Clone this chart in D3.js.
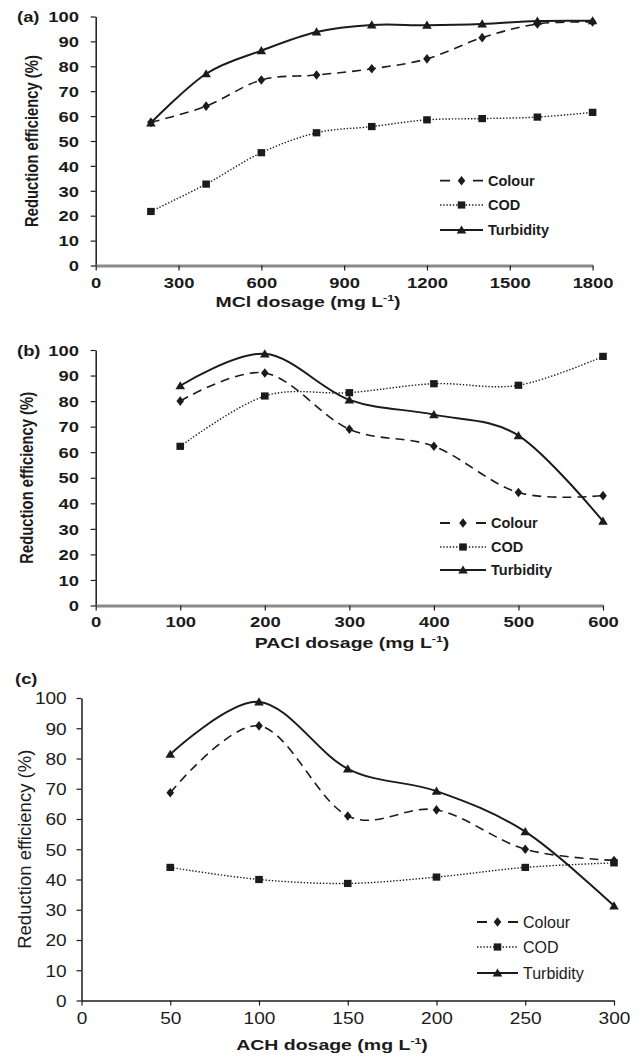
<!DOCTYPE html>
<html>
<head>
<meta charset="utf-8">
<script src="https://cdn.jsdelivr.net/npm/d3@7"></script>
<style>
  body { margin: 0; background: #fff; }
  svg { display: block; }
</style>
</head>
<body>
<svg id="chart" width="640" height="1064"></svg>
<script>
// ---- data ----
const seriesNames = ["Colour", "COD", "Turbidity"];
const yTicks = [0, 10, 20, 30, 40, 50, 60, 70, 80, 90, 100];

// (a) MCl
const mclDose = [200, 400, 600, 800, 1000, 1200, 1400, 1600, 1800];
const mclColour = [57.5, 64, 74.5, 76.5, 79, 83, 91.5, 97, 97.8];
const mclCOD = [21.7, 32.7, 45.3, 53.3, 55.8, 58.5, 59, 59.6, 61.5];
const mclTurbidity = [57.3, 77, 86.3, 93.8, 96.6, 96.5, 97, 98.2, 98.3];
const mclTicks = [0, 300, 600, 900, 1200, 1500, 1800];

// (b) PACl
const paclDose = [100, 200, 300, 400, 500, 600];
const paclColour = [80, 91, 69, 62.3, 44.2, 43];
const paclCOD = [62.3, 82, 83.3, 86.8, 86.2, 97.5];
const paclTurbidity = [86, 98.5, 80.5, 74.7, 66.5, 33];
const paclTicks = [0, 100, 200, 300, 400, 500, 600];

// (c) ACH
const achDose = [50, 100, 150, 200, 250, 300];
const achColour = [68.7, 90.8, 61, 63, 50, 46.3];
const achCOD = [44, 40, 38.7, 40.8, 44, 45.5];
const achTurbidity = [81.4, 98.7, 76.6, 69.2, 55.8, 31.3];
const achTicks = [0, 50, 100, 150, 200, 250, 300];

const svg = d3.select("#chart");
const ink = "#1b1b1b";

// marker shapes (Excel-like)
const diamond = { draw(c) { c.moveTo(0, -4.8); c.lineTo(3.8, 0); c.lineTo(0, 4.8); c.lineTo(-3.8, 0); c.closePath(); } };
const square = { draw(c) { c.rect(-3.8, -3.6, 7.6, 7.2); } };
const triangle = { draw(c) { c.moveTo(0, -4.6); c.lineTo(4.8, 3.6); c.lineTo(-4.8, 3.6); c.closePath(); } };
const shapes = [diamond, square, triangle];
const dashes = ["9,6", "1.4,1.8", null];
const widths = [1.6, 1.4, 2];

function drawPanel(p) {
  const x = d3.scaleLinear().domain([0, p.ticks[p.ticks.length - 1]]).range([p.left, p.right]);
  const y = d3.scaleLinear().domain([0, 100]).range([p.bottom, p.top]);
  const g = svg.append("g");

  // y axis
  const gy = g.append("g").attr("transform", `translate(${p.left},0)`)
    .call(d3.axisLeft(y).tickValues(yTicks).tickSize(5).tickSizeOuter(0));
  gy.select(".domain").attr("stroke", ink).attr("stroke-width", 1.5);
  gy.selectAll(".tick line").attr("stroke", ink).attr("stroke-width", 1.2);
  gy.attr("font-family", "Liberation Sans, Arial, sans-serif").attr("font-size", p.tickSize)
    .attr("font-weight", p.tickWeight);
  gy.selectAll(".tick text").attr("x", null).attr("dy", null).attr("fill", ink)
    .attr("transform", `translate(${-p.yLabelGap},${p.tickSize * 0.36}) scale(${p.k},1)`);

  // x axis
  const gx = g.append("g").attr("transform", `translate(0,${p.bottom})`)
    .call(d3.axisBottom(x).tickValues(p.ticks).tickFormat(d3.format("d")).tickSize(5).tickSizeOuter(0));
  gx.select(".domain").attr("stroke", p.xAxisColor).attr("stroke-width", p.xAxisWidth);
  gx.selectAll(".tick line").attr("stroke", ink).attr("stroke-width", 1.2);
  gx.attr("font-family", "Liberation Sans, Arial, sans-serif").attr("font-size", p.tickSize)
    .attr("font-weight", p.tickWeight);
  gx.selectAll(".tick text").attr("y", null).attr("dy", null).attr("fill", ink)
    .attr("transform", `translate(0,${p.xLabelOff}) scale(${p.k},1)`);

  // panel letter
  g.append("text").attr("transform", `translate(${p.letterX},${p.letterY}) scale(1.27,1)`)
    .attr("font-family", "Liberation Sans, Arial, sans-serif").attr("font-size", 14.5)
    .attr("font-weight", "bold").attr("fill", ink).text(p.letter);

  // y title
  g.append("text")
    .attr("transform", `translate(${p.yTitleX},${(p.top + p.bottom) / 2}) scale(${p.yTitleK},1) rotate(-90)`)
    .attr("text-anchor", "middle").attr("dy", "0.35em")
    .attr("font-family", "Liberation Sans, Arial, sans-serif").attr("font-size", p.yTitleSize)
    .attr("font-weight", p.yTitleWeight).attr("fill", ink)
    .text("Reduction efficiency (%)");

  // x title
  const xt = g.append("text")
    .attr("transform", `translate(${p.xTitleX},${p.xTitleY}) scale(1.3,1)`)
    .attr("text-anchor", "middle")
    .attr("font-family", "Liberation Sans, Arial, sans-serif").attr("font-size", 15)
    .attr("font-weight", "bold").attr("fill", ink);
  xt.append("tspan").text(p.xTitle + " dosage (mg L");
  xt.append("tspan").attr("font-size", 9.5).attr("dy", -6).text("-1");
  xt.append("tspan").attr("dy", 6).text(")");

  // series
  const line = d3.line().x(d => x(d[0])).y(d => y(d[1])).curve(d3.curveCardinal.tension(0));
  p.series.forEach((vals, i) => {
    const pts = p.dose.map((d, j) => [d, vals[j]]);
    g.append("path").datum(pts).attr("d", line).attr("fill", "none")
      .attr("stroke", ink).attr("stroke-width", widths[i])
      .attr("stroke-dasharray", dashes[i]);
    g.selectAll(null).data(pts).join("path")
      .attr("transform", d => `translate(${x(d[0])},${y(d[1])})`)
      .attr("d", d3.symbol().type(shapes[i])())
      .attr("fill", ink);
  });

  // legend
  const L = p.legend;
  seriesNames.forEach((name, i) => {
    const ly = L.y[i];
    const row = g.append("g").attr("transform", `translate(${L.x},${ly})`);
    if (i === 0) {
      row.append("line").attr("x1", 0).attr("x2", L.len).attr("stroke", ink).attr("stroke-width", 1.8)
        .attr("stroke-dasharray", `10,${L.len - 20}`);
    } else {
      row.append("line").attr("x1", 0).attr("x2", L.len).attr("stroke", ink)
        .attr("stroke-width", widths[i]).attr("stroke-dasharray", dashes[i]);
    }
    row.append("path").attr("transform", `translate(${L.len / 2},0)`)
      .attr("d", d3.symbol().type(shapes[i])()).attr("fill", ink);
    row.append("text").attr("x", L.len + 5).attr("y", L.size * 0.36)
      .attr("font-family", "Liberation Sans, Arial, sans-serif").attr("font-size", L.size)
      .attr("font-weight", L.weight).attr("fill", ink).text(name);
  });
}

drawPanel({
  letter: "(a)", letterX: 17, letterY: 22,
  dose: mclDose, series: [mclColour, mclCOD, mclTurbidity], ticks: mclTicks,
  left: 95.7, right: 592.6, top: 16.5, bottom: 265.5,
  tickSize: 14.5, tickWeight: "bold", k: 1.27, yLabelGap: 16.7, xLabelOff: 22,
  xAxisColor: "#8a8a8a", xAxisWidth: 3,
  yTitleX: 31, yTitleSize: 14.8, yTitleWeight: "bold", yTitleK: 1.27,
  xTitle: "MCl", xTitleX: 308, xTitleY: 307,
  legend: { x: 440, len: 43, y: [180.7, 205, 230], size: 14.5, weight: "bold" }
});

drawPanel({
  letter: "(b)", letterX: 17, letterY: 355.5,
  dose: paclDose, series: [paclColour, paclCOD, paclTurbidity], ticks: paclTicks,
  left: 95.7, right: 603, top: 350, bottom: 605.5,
  tickSize: 14.5, tickWeight: "bold", k: 1.27, yLabelGap: 16.7, xLabelOff: 21,
  xAxisColor: "#8a8a8a", xAxisWidth: 3,
  yTitleX: 26, yTitleSize: 14.8, yTitleWeight: "bold", yTitleK: 1.27,
  xTitle: "PACl", xTitleX: 352, xTitleY: 648,
  legend: { x: 440, len: 46, y: [523, 547, 570], size: 14.5, weight: "bold" }
});

drawPanel({
  letter: "(c)", letterX: 15, letterY: 684,
  dose: achDose, series: [achColour, achCOD, achTurbidity], ticks: achTicks,
  left: 81.5, right: 614, top: 698, bottom: 1000.5,
  tickSize: 16.3, tickWeight: "normal", k: 1.17, yLabelGap: 14.8, xLabelOff: 23,
  xAxisColor: ink, xAxisWidth: 1.5,
  yTitleX: 24.5, yTitleSize: 18.5, yTitleWeight: "normal", yTitleK: 1,
  xTitle: "ACH", xTitleX: 332, xTitleY: 1050,
  legend: { x: 477, len: 41, y: [922, 947, 973], size: 16, weight: "normal" }
});
</script>
</body>
</html>
